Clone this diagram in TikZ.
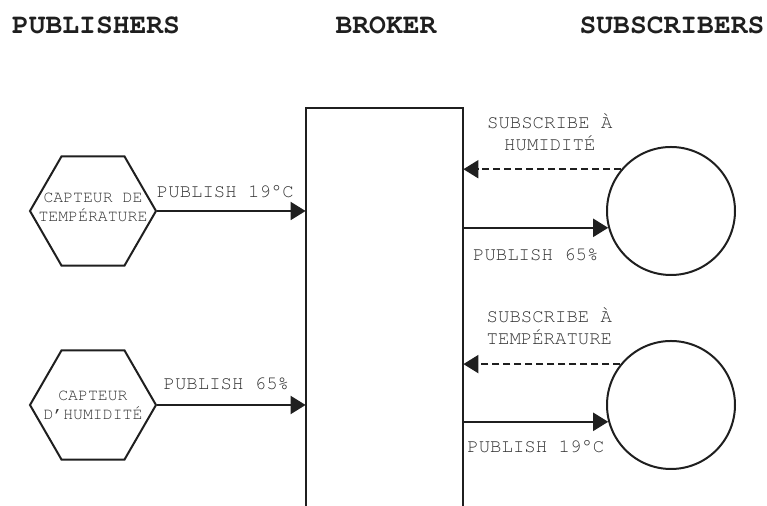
\documentclass[tikz,border=0pt]{standalone}
\usepackage[T1]{fontenc}
\usepackage{courier}
\usepackage{tikz}
\usetikzlibrary{
  arrows.meta,
  positioning,
  shapes.geometric
}
\usepackage{xcolor}
\definecolor{inkBlack}{rgb}{0.12,0.12,0.12}
\definecolor{textGray}{rgb}{0.2,0.2,0.2}
\tikzset{
  sensor/.style={
    regular polygon,
    regular polygon sides=6,
    draw=inkBlack,
    line width=1pt,
    minimum size=63pt,
    inner sep=0pt
  }
}
\tikzset{
  sensorText/.style={
    align=center,
    text=textGray,
    inner sep=0pt,
    font=\ttfamily\fontsize{8.25}{9.5}\selectfont
  }
}
\tikzset{
  client/.style={
    circle,
    draw=inkBlack,
    line width=1pt,
    minimum size=64pt,
    inner sep=0pt
  }
}
\tikzset{
  headText/.style={
    font=\ttfamily\bfseries\fontsize{14}{16}\selectfont,
    text=inkBlack,
    inner sep=0pt
  }
}
\tikzset{
  msgLabel/.style={
    align=center,
    text=textGray,
    font=\ttfamily\fontsize{9.5}{11}\selectfont
  }
}
\tikzset{
  wire/.style={draw=inkBlack, line width=1pt},
  pubArrow/.style={wire, -{Triangle[length=7.5pt,width=9pt]}},
  subArrow/.style={pubArrow, dash pattern=on 3.5pt off 2pt}
}

\begin{document}
\begin{tikzpicture}[x=0.5pt, y=-0.5pt]
    \useasboundingbox (0,0) rectangle (767,506);

    % column titles
    \node[headText] (pubHead) at (96,25) {PUBLISHERS};
    \node[headText] (brokerHead) at (386,25) {BROKER};
    \node[headText] (subHead) at (672,25) {SUBSCRIBERS};

    % broker, open at the bottom
    \node[minimum width=78.5pt, minimum height=201pt, inner sep=0pt]
      (broker) at (384.5,309) {};
    \draw[wire] (broker.south west) -- (broker.north west)
      -- (broker.north east) -- (broker.south east);

    % publishers
    \node[sensor, label={[sensorText, yshift=2pt]center:CAPTEUR DE\\TEMPÉRATURE}]
      (hexTemp) at (93,211) {};
    \node[sensor, label={[sensorText]center:CAPTEUR\\D'HUMIDITÉ}]
      (hexHum) at (93,405) {};

    % subscribers
    \node[client] (subHum) at (671,211) {};
    \node[client] (subTemp) at (671,405) {};

    \draw[pubArrow] (hexTemp.east) -- node[msgLabel, above=3pt, xshift=-3pt]
      {PUBLISH 19\textdegree C} (hexTemp.east -| broker.west);
    \draw[pubArrow] (hexHum.east) -- node[msgLabel, above=4pt, xshift=-2.5pt]
      {PUBLISH 65\%} (hexHum.east -| broker.west);

    \draw[subArrow] (subHum.140) -- node[msgLabel, above=5.6pt, xshift=3.75pt]
      {SUBSCRIBE À\\HUMIDITÉ} (subHum.140 -| broker.east);
    \draw[pubArrow] (subHum.195 -| broker.east) -- node[msgLabel, below=6.6pt]
      {PUBLISH 65\%} (subHum.195);

    \draw[subArrow] (subTemp.141) -- node[msgLabel, above=5.6pt, xshift=3.75pt]
      {SUBSCRIBE À\\TEMPÉRATURE} (subTemp.141 -| broker.east);
    \draw[pubArrow] (subTemp.195 -| broker.east) -- node[msgLabel, below=5.6pt]
      {PUBLISH 19\textdegree C} (subTemp.195);
\end{tikzpicture}
\end{document}
